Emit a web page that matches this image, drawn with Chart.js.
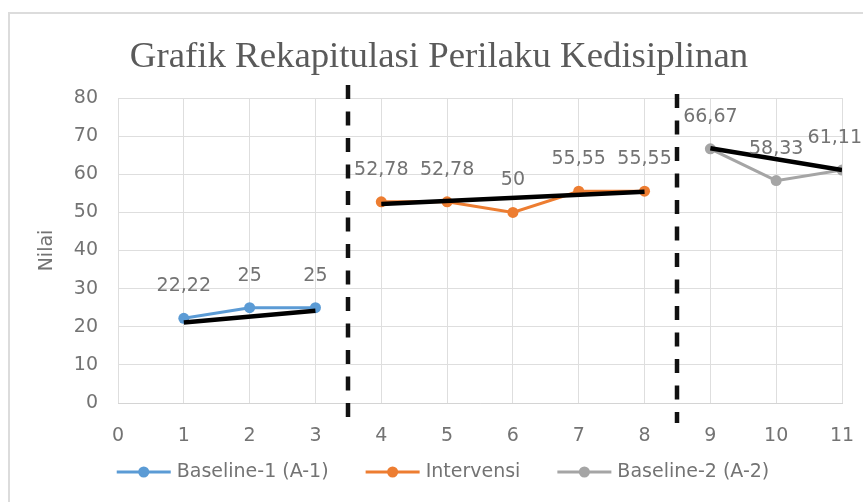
<!DOCTYPE html>
<html>
<head>
<meta charset="utf-8">
<script src="https://cdn.jsdelivr.net/npm/chart.js@4.4.1/dist/chart.umd.min.js"></script>
<style>
html,body{margin:0;padding:0;background:#fff;overflow:hidden;}
#wrap{position:relative;width:863px;height:502px;overflow:hidden;}
#frame{position:absolute;left:8px;top:12px;width:900px;height:600px;border:2px solid #dcdcdc;box-sizing:border-box;}
canvas{position:absolute;left:0;top:0;}
</style>
</head>
<body>
<div id="wrap"><div id="frame"></div><canvas id="c" width="863" height="502"></canvas></div>
<script>
// ---- data ----
const chartTitle = 'Grafik Rekapitulasi Perilaku Kedisiplinan';
const yAxisTitle = 'Nilai';
const xTickValues = [0, 1, 2, 3, 4, 5, 6, 7, 8, 9, 10, 11];
const yTickValues = [0, 10, 20, 30, 40, 50, 60, 70, 80];

const seriesNames = ['Baseline-1 (A-1)', 'Intervensi', 'Baseline-2 (A-2)'];
const sessionsA1 = [1, 2, 3];
const valuesA1 = [22.22, 25, 25];
const sessionsB = [4, 5, 6, 7, 8];
const valuesB = [52.78, 52.78, 50, 55.55, 55.55];
const sessionsA2 = [9, 10, 11];
const valuesA2 = [66.67, 58.33, 61.11];

// trend lines: start and end session, start and end value
const trendSessionsA1 = [1, 3];
const trendValuesA1 = [21.1, 24.2];
const trendSessionsB = [4, 8];
const trendValuesB = [52.2, 55.4];
const trendSessionsA2 = [9, 11];
const trendValuesA2 = [66.8, 61.1];

// phase change lines
const phaseBoundaries = [3.5, 8.5];

// ---- styles ----
const colors = ['#5B9BD5', '#ED7D31', '#A5A5A5'];
const textColor = '#737373';
const fontFamily = '"DejaVu Sans", sans-serif';

function pts(xs, ys) { return xs.map((x, i) => ({ x: x, y: ys[i] })); }

function seriesDs(i, xs, ys) {
  return {
    label: seriesNames[i], data: pts(xs, ys),
    borderColor: colors[i], backgroundColor: colors[i],
    borderWidth: 3, pointRadius: 5.5, pointHoverRadius: 5.5, pointBorderWidth: 0,
    order: 2, isSeries: true
  };
}
function trendDs(xs, ys) {
  return {
    label: 'trend', data: pts(xs, ys),
    borderColor: '#000', backgroundColor: '#000',
    borderWidth: 4.5, pointRadius: 0, order: 1, isSeries: false
  };
}

function fmt(v) { return String(v).replace('.', ','); }

const decor = {
  id: 'decor',
  beforeDatasetsDraw(chart) {
    const ctx = chart.ctx, xs = chart.scales.x, a = chart.chartArea;
    ctx.save();
    ctx.strokeStyle = '#111';
    ctx.lineWidth = 4.5;
    ctx.setLineDash([14, 12.5]);
    phaseBoundaries.forEach((b, i) => {
      const px = Math.round(xs.getPixelForValue(b));
      ctx.beginPath();
      ctx.moveTo(px, a.top - (i === 0 ? 13 : 4));
      ctx.lineTo(px, a.bottom + 20);
      ctx.stroke();
    });
    ctx.restore();
  },
  afterDatasetsDraw(chart) {
    const ctx = chart.ctx;
    ctx.save();
    ctx.font = '19px ' + fontFamily;
    ctx.fillStyle = textColor;
    ctx.textAlign = 'center';
    ctx.textBaseline = 'middle';
    chart.data.datasets.forEach((ds, di) => {
      if (!ds.isSeries) return;
      const meta = chart.getDatasetMeta(di);
      meta.data.forEach((el, i) => {
        const t = fmt(ds.data[i].y);
        const w = ctx.measureText(t).width;
        let x = el.x;
        if (x + w / 2 > chart.width - 1) x = chart.width - 1 - w / 2;
        ctx.fillText(t, x, el.y - 32);
      });
    });
    ctx.restore();
  },
  afterDraw(chart) {
    const ctx = chart.ctx;
    ctx.save();
    // title
    ctx.font = '36.8px "Liberation Serif", serif';
    ctx.fillStyle = '#5a5a5a';
    ctx.textAlign = 'center';
    ctx.textBaseline = 'middle';
    ctx.fillText(chartTitle, 439, 57);
    // legend
    ctx.font = '19px ' + fontFamily;
    const items = chart.data.datasets.filter(d => d.isSeries);
    const markW = 54, gap = 6, spacing = 37;
    const widths = items.map(d => markW + gap + ctx.measureText(d.label).width);
    const total = widths.reduce((s, w) => s + w, 0) + spacing * (items.length - 1);
    let x = 443 - total / 2;
    const y = 472;
    items.forEach((d, i) => {
      ctx.strokeStyle = d.borderColor;
      ctx.lineWidth = 3;
      ctx.beginPath();
      ctx.moveTo(x, y); ctx.lineTo(x + markW, y);
      ctx.stroke();
      ctx.fillStyle = d.borderColor;
      ctx.beginPath();
      ctx.arc(x + markW / 2, y, 5.5, 0, Math.PI * 2);
      ctx.fill();
      ctx.fillStyle = textColor;
      ctx.textAlign = 'left';
      ctx.fillText(d.label, x + markW + gap, y);
      x += widths[i] + spacing;
    });
    ctx.restore();
  }
};

new Chart(document.getElementById('c'), {
  type: 'line',
  data: {
    datasets: [
      seriesDs(0, sessionsA1, valuesA1),
      seriesDs(1, sessionsB, valuesB),
      seriesDs(2, sessionsA2, valuesA2),
      trendDs(trendSessionsA1, trendValuesA1),
      trendDs(trendSessionsB, trendValuesB),
      trendDs(trendSessionsA2, trendValuesA2)
    ]
  },
  options: {
    responsive: false,
    animation: false,
    layout: { padding: { top: 98, left: 0, right: 21, bottom: 0 } },
    plugins: { legend: { display: false }, title: { display: false }, tooltip: { enabled: false } },
    scales: {
      x: {
        type: 'linear', min: 0, max: 11,
        afterBuildTicks(s) { s.ticks = xTickValues.map(v => ({ value: v })); },
        afterFit(s) { s.height = 99; s.paddingLeft = 0; s.paddingRight = 0; },
        grid: { color: '#dedede', drawTicks: false, lineWidth: 1 },
        border: { color: '#d4d4d4', width: 1 },
        ticks: { padding: 22, color: textColor, font: { family: fontFamily, size: 19 } }
      },
      y: {
        min: 0, max: 80,
        afterBuildTicks(s) { s.ticks = yTickValues.map(v => ({ value: v })); },
        afterFit(s) { s.width = 118; s.paddingTop = 0; s.paddingBottom = 0; },
        grid: { color: '#dedede', drawTicks: false, lineWidth: 1 },
        border: { display: false },
        ticks: { padding: 20, color: textColor, font: { family: fontFamily, size: 19 } },
        title: { display: true, text: yAxisTitle, color: textColor, padding: { top: 36, bottom: 0 }, font: { family: fontFamily, size: 19 } }
      }
    }
  },
  plugins: [decor]
});
</script>
</body>
</html>
